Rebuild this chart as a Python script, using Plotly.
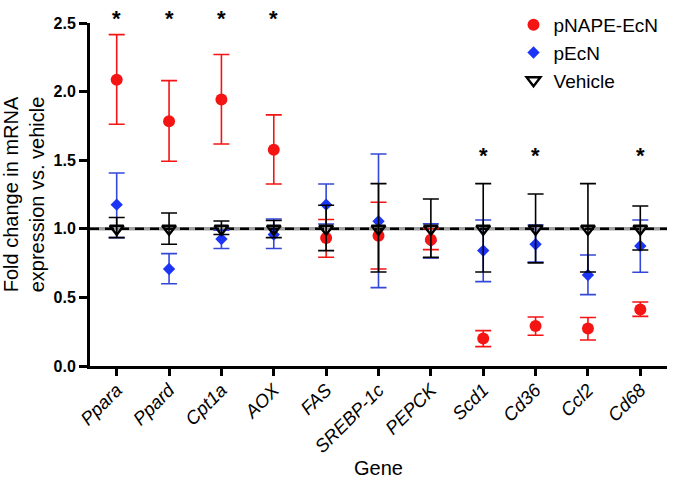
import plotly.graph_objects as go

genes = ["Ppara", "Ppard", "Cpt1a", "AOX", "FAS", "SREBP-1c", "PEPCK", "Scd1", "Cd36", "Ccl2", "Cd68"]

nape_mean = [2.087, 1.784, 1.942, 1.577, 0.933, 0.950, 0.921, 0.200, 0.292, 0.273, 0.411]
nape_hi = [2.415, 2.080, 2.270, 1.830, 1.068, 1.193, 1.001, 0.258, 0.357, 0.353, 0.467]
nape_lo = [1.762, 1.492, 1.618, 1.327, 0.793, 0.707, 0.848, 0.141, 0.224, 0.190, 0.362]

ecn_mean = [1.176, 0.707, 0.926, 0.958, 1.176, 1.055, 0.911, 0.841, 0.887, 0.663, 0.875]
ecn_hi = [1.407, 0.819, 0.990, 1.071, 1.327, 1.545, 1.036, 1.064, 1.028, 0.809, 1.064]
ecn_lo = [0.936, 0.600, 0.856, 0.856, 1.035, 0.571, 0.788, 0.615, 0.757, 0.520, 0.683]

veh_mean = [1.0] * 11
veh_hi = [1.082, 1.115, 1.057, 1.060, 1.172, 1.329, 1.217, 1.329, 1.254, 1.329, 1.166]
veh_lo = [0.936, 0.887, 0.958, 0.936, 0.841, 0.685, 0.792, 0.685, 0.752, 0.685, 0.846]

star_genes = ["Ppara", "Ppard", "Cpt1a", "AOX", "Scd1", "Cd36", "Cd68"]
star_heights = [2.536, 2.536, 2.536, 2.536, 1.535, 1.535, 1.535]

Y_MAX = 2.5
RED = "#f41414"
BLUE = "#1c34f5"
BLUE_ERR = "#3448d8"
FONT = "Liberation Sans, Arial, Helvetica, sans-serif"


def err(mean, hi, lo):
    return dict(
        type="data", symmetric=False,
        array=[h - m for h, m in zip(hi, mean)],
        arrayminus=[m - l for m, l in zip(mean, lo)],
        thickness=1.6, width=8,
    )


fig = go.Figure()

fig.add_trace(go.Scatter(
    x=genes, y=ecn_mean, mode="markers", name="pEcN",
    legendgroup="b", legendrank=2,
    marker=dict(symbol="diamond", size=9.5, color=BLUE),
    error_y={**err(ecn_mean, ecn_hi, ecn_lo), "color": BLUE_ERR},
    cliponaxis=False,
))
fig.add_trace(go.Scatter(
    x=genes, y=nape_mean, mode="markers", name="pNAPE-EcN",
    legendgroup="a", legendrank=1,
    marker=dict(symbol="circle", size=12, color=RED),
    error_y={**err(nape_mean, nape_hi, nape_lo), "color": RED},
    cliponaxis=False,
))
fig.add_trace(go.Scatter(
    x=genes, y=veh_mean, mode="markers", name="Vehicle",
    legendgroup="c", legendrank=3,
    marker=dict(symbol="triangle-down-open", size=12, color="black",
                line=dict(width=2.4, color="black")),
    error_y={**err(veh_mean, veh_hi, veh_lo), "color": "black"},
    cliponaxis=False,
))

# significance stars (paper-referenced so the top row may sit above the axis end)
for g, h in zip(star_genes, star_heights):
    fig.add_annotation(x=g, xref="x", y=h / Y_MAX, yref="paper",
                       text="<b>*</b>", showarrow=False,
                       xanchor="center", yanchor="middle",
                       font=dict(family=FONT, size=22, color="black"))

# reference line at fold change 1.0
fig.add_hline(y=1.0, line=dict(color="#a0a0a0", width=3.5), layer="below")
fig.add_hline(y=1.0, line=dict(color="black", width=2.5, dash="9px,6px"), layer="below")

fig.update_layout(
    template="none",
    width=678, height=498,
    margin=dict(l=90, r=11, t=23, b=132, autoexpand=False),
    paper_bgcolor="white", plot_bgcolor="white",
    font=dict(family=FONT, color="black"),
    showlegend=True,
    legend=dict(x=0.734, y=0.988, xref="paper", yref="container",
                xanchor="left", yanchor="top",
                traceorder="grouped", tracegroupgap=0,
                font=dict(family=FONT, size=19, color="black"),
                itemwidth=30, bgcolor="rgba(0,0,0,0)", borderwidth=0),
    xaxis=dict(
        type="category", range=[-0.51, 10.51], automargin=False,
        showgrid=False, zeroline=False,
        showline=True, linewidth=3, linecolor="black",
        ticks="outside", ticklen=7, tickwidth=3, tickcolor="black",
        tickangle=-45, ticklabelstandoff=-4,
        tickfont=dict(family=FONT, size=18.5, style="italic", color="black"),
        title=dict(text="Gene", font=dict(family=FONT, size=20, color="black"), standoff=2),
    ),
    yaxis=dict(
        range=[0, Y_MAX], automargin=False,
        tickvals=[0, 0.5, 1.0, 1.5, 2.0, 2.5],
        ticktext=["0.0", "0.5", "1.0", "1.5", "2.0", "2.5"],
        showgrid=False, zeroline=False,
        showline=True, linewidth=3, linecolor="black",
        ticks="outside", ticklen=8, tickwidth=3, tickcolor="black",
        tickfont=dict(family=FONT, size=16, weight="bold", color="black"),
        title=dict(text="Fold change in mRNA<br>expression vs. vehicle",
                   font=dict(family=FONT, size=20, color="black"), standoff=10),
    ),
)

fig.write_html("out.html",
               config={"displayModeBar": False},
               post_script="document.body.style.margin='0';document.body.style.overflow='hidden';")
